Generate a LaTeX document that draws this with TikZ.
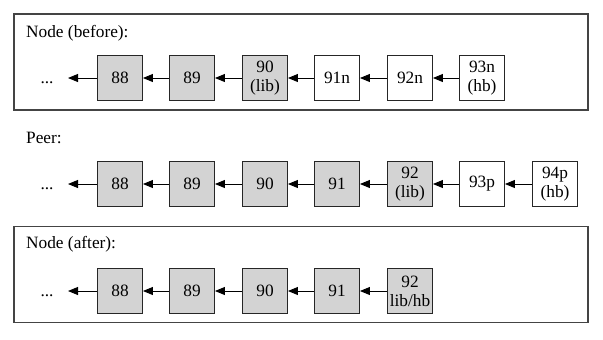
\documentclass[tikz,border=0pt]{standalone}
\usepackage{fontspec}
\setmainfont{Liberation Serif}
\usepackage{xcolor}
\usepackage{tikz}
\usetikzlibrary{arrows.meta, positioning}
\definecolor{blockfill}{HTML}{D3D3D3}
\definecolor{framecol}{HTML}{444444}

\begin{document}
\begin{tikzpicture}[
  x=1bp, y=-1bp,
  font=\fontsize{17.3bp}{19bp}\selectfont,
  blk/.style={draw=black!85, fill=white, line width=0.9bp, minimum width=45bp, minimum height=45bp, inner sep=1bp, align=center},
  lib/.style={blk, fill=blockfill},
  box/.style={draw=framecol, line width=1.1bp, minimum width=574bp, minimum height=96bp},
  lbl/.style={anchor=base west, inner sep=0pt},
  arr/.style={-{Triangle[length=10bp,width=8bp]}, line width=0.9bp},
]
\useasboundingbox (0,0) rectangle (603,339);

% Frames
\node[box] (fbefore) at (301,62) {};
\node[box] (fafter) at (301,274.5) {};
\node[lbl] (tbefore) at (26,37) {Node (before):};
\node[lbl] (tpeer) at (26,143) {Peer:};
\node[lbl] (tafter) at (26,248) {Node (after):};

% Node (before)
\node[anchor=base] (bdots) at (47,83) {...};
\coordinate (bend) at (68,78);
\node[lib] (b88) at (120,78) {88};
\node[lib] (b89) at (192,78) {89};
\node[lib] (b90) at (265,78) {90\\(lib)};
\node[blk] (b91) at (337,78) {91n};
\node[blk] (b92) at (410,78) {92n};
\node[blk] (b93) at (482,78) {93n\\(hb)};

% Peer
\node[anchor=base] (pdots) at (47,189) {...};
\coordinate (pend) at (68,184);
\node[lib] (p88) at (120,184) {88};
\node[lib] (p89) at (192,184) {89};
\node[lib] (p90) at (265,184) {90};
\node[lib] (p91) at (337,184) {91};
\node[lib] (p92) at (410,184) {92\\(lib)};
\node[blk] (p93) at (482,184) {93p};
\node[blk] (p94) at (555,184) {94p\\(hb)};

% Node (after)
\node[anchor=base] (adots) at (47,296) {...};
\coordinate (aend) at (68,291);
\node[lib] (a88) at (120,291) {88};
\node[lib] (a89) at (192,291) {89};
\node[lib] (a90) at (265,291) {90};
\node[lib] (a91) at (337,291) {91};
\node[lib] (a92) at (410,291) {92\\lib/hb};

% Chains
\draw[arr] (b88) -- (bend);
\draw[arr] (p88) -- (pend);
\draw[arr] (a88) -- (aend);
\foreach \a/\b in {89/88, 90/89, 91/90, 92/91, 93/92} {
  \draw[arr] (b\a) -- (b\b);
}
\foreach \a/\b in {89/88, 90/89, 91/90, 92/91, 93/92, 94/93} {
  \draw[arr] (p\a) -- (p\b);
}
\foreach \a/\b in {89/88, 90/89, 91/90, 92/91} {
  \draw[arr] (a\a) -- (a\b);
}

\end{tikzpicture}
\end{document}
